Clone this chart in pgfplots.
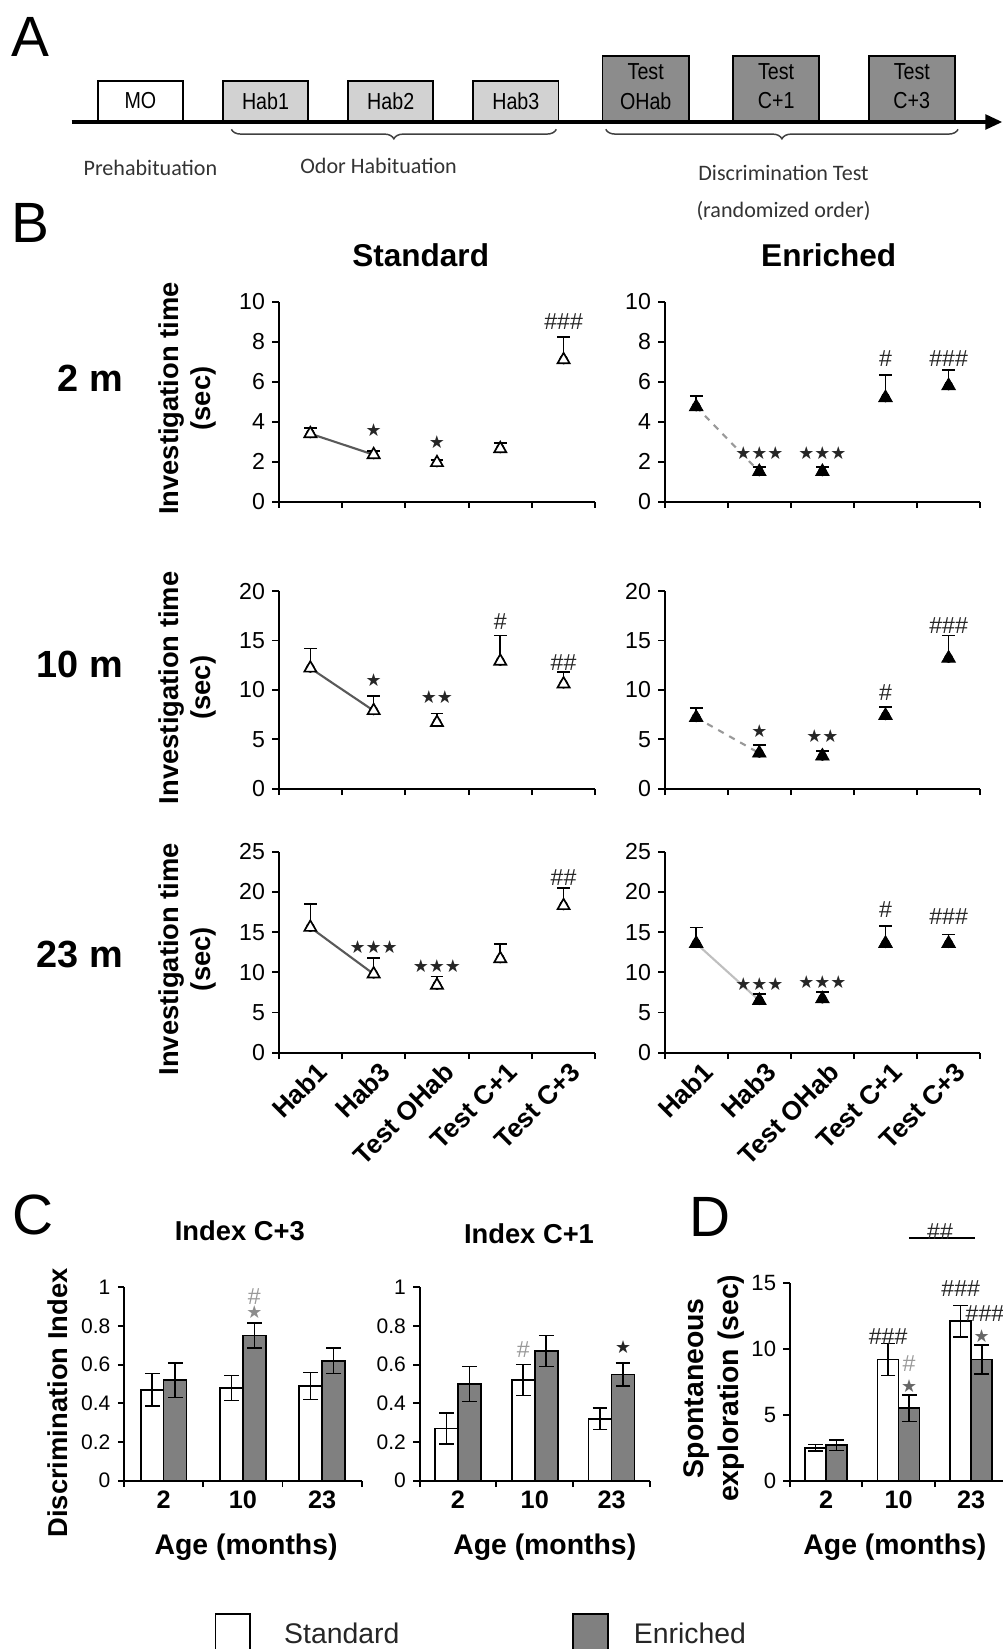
\documentclass[border=0pt]{standalone}
\usepackage{fontspec}
\setmainfont{Liberation Sans}
\newfontfamily\calfont{Carlito}
\newfontfamily\narrowfont[FakeStretch=0.85]{Liberation Sans}
\newfontfamily\djfont{DejaVu Sans}
\usepackage{pgfplots}
\usepackage{pgfplotstable}
\pgfplotsset{compat=1.18}
\usetikzlibrary{decorations.pathreplacing,arrows.meta}
\newcommand\fsz[2]{\fontsize{#1}{#2}\selectfont}
\newcommand\str[1]{{\djfont\fontsize{8.5}{9}\selectfont #1}}
\newcommand\hsh[1]{{\fontsize{11}{12}\selectfont #1}}
\definecolor{barg}{HTML}{808080}
\definecolor{annc}{HTML}{262626}
\definecolor{hab}{HTML}{D2D2D2}
\definecolor{tst}{HTML}{8C8C8C}

% ---- Panel B data (x = category, y = mean, e = upper error) ----
\pgfplotstableread{
x y e
0 3.4 0.3
1 2.35 0.2
2 1.95 0.15
3 2.65 0.3
4 7.1 1.15
}\rAs
\pgfplotstableread{
x y e
0 4.75 0.55
1 1.5 0.25
2 1.5 0.25
3 5.2 1.15
4 5.8 0.8
}\rAe
\pgfplotstableread{
x y e
0 12.2 2.0
1 7.9 1.5
2 6.7 0.9
3 12.9 2.6
4 10.6 1.2
}\rBs
\pgfplotstableread{
x y e
0 7.2 1.0
1 3.6 0.85
2 3.3 0.5
3 7.4 0.9
4 13.2 2.3
}\rBe
\pgfplotstableread{
x y e
0 15.6 2.9
1 9.8 2.0
2 8.4 1.1
3 11.7 1.8
4 18.3 2.2
}\rCs
\pgfplotstableread{
x y e
0 13.6 2.0
1 6.5 0.8
2 6.7 0.9
3 13.6 2.2
4 13.6 1.1
}\rCe
% ---- Panel C / D data (x = bar position, y = mean, e = error) ----
\pgfplotstableread{
x y e
-0.145 0.47 0.085
0.855 0.48 0.065
1.855 0.49 0.07
}\cthreeW
\pgfplotstableread{
x y e
0.145 0.52 0.09
1.145 0.75 0.065
2.145 0.62 0.065
}\cthreeG
\pgfplotstableread{
x y e
-0.15 0.27 0.08
0.85 0.52 0.08
1.85 0.32 0.055
}\coneW
\pgfplotstableread{
x y e
0.15 0.50 0.09
1.15 0.67 0.08
2.15 0.55 0.06
}\coneG
\pgfplotstableread{
x y e
-0.145 2.5 0.25
0.855 9.2 1.2
1.855 12.1 1.2
}\dW
\pgfplotstableread{
x y e
0.145 2.7 0.4
1.145 5.5 1.0
2.145 9.2 1.1
}\dG

\pgfplotsset{
  Bax/.style={
    scale only axis, anchor=south west,
    xmin=-0.5, xmax=4.5, ymin=0,
    axis lines*=left,
    axis line style={line width=1pt},
    tick style={black, line width=0.9pt},
    tick align=outside, major tick length=3pt,
    xtick={-0.5,0.5,...,4.5}, xticklabels={},
    tick label style={font=\fsz{11}{13}},
    /pgf/number format/assume math mode=true,
    clip=false,
  },
  rotlab/.style={
    extra x ticks={0,1,2,3,4},
    extra x tick labels={Hab1,Hab3,Test OHab,Test C+1,Test C+3},
    extra x tick style={major tick length=0pt,
      tick label style={rotate=45, anchor=north east, xshift=2.5pt, yshift=-1pt, font=\bfseries\fsz{12.5}{14}}},
  },
  errB/.style={forget plot, only marks, mark=none,
    error bars/.cd, y dir=plus, y explicit,
    error bar style={line width=0.8pt, black},
    error mark options={rotate=90, mark size=3pt, line width=0.8pt, black}},
  mS/.style={only marks, mark=triangle*, mark size=3.3pt,
    mark options={fill=white, draw=black, line width=0.8pt, solid}},
  mE/.style={only marks, mark=triangle*, mark size=3.7pt,
    mark options={fill=black, draw=black, solid}},
  lS/.style={no marks, black!65, line width=1pt, skip coords between index={2}{5}},
  lE/.style={no marks, black!40, line width=1pt, dashed, skip coords between index={2}{5}},
  Cax/.style={
    scale only axis, anchor=south west, ymin=0,
    xmin=-0.5, xmax=2.5,
    axis lines*=left, axis line style={line width=1pt},
    tick align=outside, major tick length=3pt,
    tick style={black, line width=0.9pt},
    xtick={-0.5,0.5,1.5,2.5}, xticklabels={},
    extra x ticks={0,1,2}, extra x tick labels={2,10,23},
    extra x tick style={major tick length=0pt,
      tick label style={font=\bfseries\fsz{12}{14}, yshift=-1.5pt}},
    tick label style={font=\fsz{10}{12}},
    /pgf/number format/assume math mode=true,
    clip=false,
  },
  errC/.style={error bars/.cd, y dir=both, y explicit,
    error bar style={line width=0.75pt, black},
    error mark options={rotate=90, mark size=3.5pt, line width=0.75pt, black}},
  barW/.style={ybar, bar width=#1, bar shift=0pt, draw=black, line width=0.75pt, fill=white, errC},
  barG/.style={ybar, bar width=#1, bar shift=0pt, draw=black, line width=0.75pt, fill=barg, errC},
}

\begin{document}
\begin{tikzpicture}
\path[use as bounding box] (0,0) rectangle (476.5pt,-784pt);

% ================= global texts and panel A =================
\begin{scope}[x=0.5pt, y=-0.5pt]
  % panel letters
  \node[font=\fsz{27}{30}] at (29,35) {A};
  \node[font=\fsz{27}{30}] at (29,212) {B};
  \node[font=\fsz{27}{30}] at (31,1155) {C};
  \node[font=\fsz{27}{30}] at (675,1157) {D};
  % timeline
  \draw[line width=1.5pt, -{Triangle[length=8pt,width=7pt]}] (68,116) -- (953,116);
  \draw[line width=0.8pt, fill=white] (93,77) rectangle (174,115);
  \node[font=\narrowfont\fsz{11}{13}] at (133.5,96) {MO};
  \foreach \xa/\lab in {212/Hab1, 331/Hab2, 450/Hab3}{
    \draw[line width=0.8pt, fill=hab] (\xa,77) rectangle ({\xa+81},115);
    \node[font=\narrowfont\fsz{11}{13}] at ({\xa+40.5},96) {\lab};
  }
  \foreach \xa/\lab in {573/OHab, 697/C+1, 826/C+3}{
    \draw[line width=0.8pt, fill=tst] (\xa,53) rectangle ({\xa+82},115);
    \node[font=\narrowfont\fsz{11}{13}] at ({\xa+41},68) {Test};
    \node[font=\narrowfont\fsz{11}{13}] at ({\xa+41},96) {\lab};
  }
  \draw[black!75, line width=0.7pt, decorate, decoration={brace, mirror, amplitude=4.5pt}] (220,123) -- (529,123);
  \draw[black!75, line width=0.7pt, decorate, decoration={brace, mirror, amplitude=4.5pt}] (576,123) -- (911,123);
  \node[font=\calfont\fsz{10.5}{12}, text=black!80] at (143,160) {Prehabituation};
  \node[font=\calfont\fsz{10.5}{12}, text=black!80] at (360,158) {Odor Habituation};
  \node[font=\calfont\fsz{10.5}{12}, text=black!80] at (745,164) {Discrimination Test};
  \node[font=\calfont\fsz{10.5}{12}, text=black!80] at (745,201) {(randomized order)};
  % panel B titles
  \node[font=\bfseries\fsz{15}{17}] at (400,243) {Standard};
  \node[font=\bfseries\fsz{15}{17}] at (788,243) {Enriched};
  \node[font=\bfseries\fsz{18}{20}, anchor=east] at (124,360) {2 m};
  \node[font=\bfseries\fsz{18}{20}, anchor=east] at (124,632) {10 m};
  \node[font=\bfseries\fsz{18}{20}, anchor=east] at (124,908) {23 m};
  \foreach \yy in {379,654,912}{
    \node[font=\bfseries\fsz{13}{15}, rotate=90, align=center] at (178,\yy) {Investigation time\\(sec)};
  }
  % panel C / D titles
  \node[font=\bfseries\fsz{13}{15}] at (228,1170) {Index C+3};
  \node[font=\bfseries\fsz{13}{15}] at (503,1173) {Index C+1};
  \node[font=\bfseries\fsz{13}{15}, rotate=90] at (55,1334) {Discrimination Index};
  \node[font=\bfseries\fsz{13.5}{17}, rotate=90, align=center] at (679,1320) {Spontaneous\\exploration (sec)};
  \node[font=\bfseries\fsz{13.5}{15}] at (234,1471) {Age (months)};
  \node[font=\bfseries\fsz{13.5}{15}] at (518,1471) {Age (months)};
  \node[font=\bfseries\fsz{13.5}{15}] at (851,1471) {Age (months)};
  % legend
  \draw[line width=0.8pt, fill=white] (205,1535) rectangle (238,1600);
  \node[font=\fsz{13.5}{15}, text=black!85] at (325,1553) {Standard};
  \draw[line width=0.8pt, fill=barg] (545,1535) rectangle (578,1600);
  \node[font=\fsz{13.5}{15}, text=black!85] at (656,1553) {Enriched};
\end{scope}

% ================= Panel B =================
% row 1 standard
\begin{axis}[Bax, at={(132.5pt,-238.5pt)}, width=150.5pt, height=95pt, ymax=10, ytick={0,2,...,10}]
  \addplot[lS] table[x=x,y=y]{\rAs};
  \addplot[errB] table[x=x,y=y,y error=e]{\rAs};
  \addplot[mS] table[x=x,y=y]{\rAs};
  \node[annc] at (axis cs:1,3.6) {\str{★}};
  \node[annc] at (axis cs:2,3.0) {\str{★}};
  \node[annc] at (axis cs:4,9.0) {\hsh{\#\#\#}};
\end{axis}
% row 1 enriched
\begin{axis}[Bax, at={(316pt,-238.5pt)}, width=150pt, height=95pt, ymax=10, ytick={0,2,...,10}]
  \addplot[lE] table[x=x,y=y]{\rAe};
  \addplot[errB] table[x=x,y=y,y error=e]{\rAe};
  \addplot[mE] table[x=x,y=y]{\rAe};
  \node[annc] at (axis cs:1,2.45) {\str{★★★}};
  \node[annc] at (axis cs:2,2.45) {\str{★★★}};
  \node[annc] at (axis cs:3,7.15) {\hsh{\#}};
  \node[annc] at (axis cs:4,7.15) {\hsh{\#\#\#}};
\end{axis}
% row 2 standard
\begin{axis}[Bax, at={(132.5pt,-375pt)}, width=150.5pt, height=94pt, ymax=20, ytick={0,5,...,20}]
  \addplot[lS] table[x=x,y=y]{\rBs};
  \addplot[errB] table[x=x,y=y,y error=e]{\rBs};
  \addplot[mS] table[x=x,y=y]{\rBs};
  \node[annc] at (axis cs:1,11.0) {\str{★}};
  \node[annc] at (axis cs:2,9.3) {\str{★★}};
  \node[annc] at (axis cs:3,16.9) {\hsh{\#}};
  \node[annc] at (axis cs:4,12.8) {\hsh{\#\#}};
\end{axis}
% row 2 enriched
\begin{axis}[Bax, at={(316pt,-375pt)}, width=150pt, height=94pt, ymax=20, ytick={0,5,...,20}]
  \addplot[lE] table[x=x,y=y]{\rBe};
  \addplot[errB] table[x=x,y=y,y error=e]{\rBe};
  \addplot[mE] table[x=x,y=y]{\rBe};
  \node[annc] at (axis cs:1,5.8) {\str{★}};
  \node[annc] at (axis cs:2,5.3) {\str{★★}};
  \node[annc] at (axis cs:3,9.7) {\hsh{\#}};
  \node[annc] at (axis cs:4,16.5) {\hsh{\#\#\#}};
\end{axis}
% row 3 standard
\begin{axis}[Bax, rotlab, at={(132.5pt,-500.5pt)}, width=150.5pt, height=95.5pt, ymax=25, ytick={0,5,...,25}]
  \addplot[lS] table[x=x,y=y]{\rCs};
  \addplot[errB] table[x=x,y=y,y error=e]{\rCs};
  \addplot[mS] table[x=x,y=y]{\rCs};
  \node[annc] at (axis cs:1,13.2) {\str{★★★}};
  \node[annc] at (axis cs:2,10.8) {\str{★★★}};
  \node[annc] at (axis cs:4,21.8) {\hsh{\#\#}};
\end{axis}
% row 3 enriched
\begin{axis}[Bax, rotlab, at={(316pt,-500.5pt)}, width=150pt, height=95.5pt, ymax=25, ytick={0,5,...,25}]
  \addplot[lE, solid, black!25] table[x=x,y=y]{\rCe};
  \addplot[errB] table[x=x,y=y,y error=e]{\rCe};
  \addplot[mE] table[x=x,y=y]{\rCe};
  \node[annc] at (axis cs:1,8.6) {\str{★★★}};
  \node[annc] at (axis cs:2,8.8) {\str{★★★}};
  \node[annc] at (axis cs:3,17.8) {\hsh{\#}};
  \node[annc] at (axis cs:4,16.9) {\hsh{\#\#\#}};
\end{axis}

% ================= Panel C =================
\begin{axis}[Cax, at={(59pt,-704pt)}, width=113pt, height=92pt, ymax=1, ytick={0,0.2,0.4,0.6,0.8,1}]
  \addplot[barW=0.29] table[x=x,y=y,y error=e]{\cthreeW};
  \addplot[barG=0.29] table[x=x,y=y,y error=e]{\cthreeG};
  \node[text=black!45] at (axis cs:1.145,0.87) {\str{★}};
  \node[text=black!40] at (axis cs:1.145,0.95) {\hsh{\#}};
\end{axis}
\begin{axis}[Cax, at={(199.5pt,-704pt)}, width=109.5pt, height=92pt, ymax=1, ytick={0,0.2,0.4,0.6,0.8,1}]
  \addplot[barW=0.3] table[x=x,y=y,y error=e]{\coneW};
  \addplot[barG=0.3] table[x=x,y=y,y error=e]{\coneG};
  \node[text=black!40] at (axis cs:0.85,0.68) {\hsh{\#}};
  \node[annc] at (axis cs:2.15,0.69) {\str{★}};
\end{axis}

% ================= Panel D =================
\begin{axis}[Cax, at={(375.5pt,-704pt)}, width=103.5pt, height=94pt, ymax=15, ytick={0,5,10,15}, tick label style={font=\fsz{10.5}{12}}]
  \addplot[barW=0.29] table[x=x,y=y,y error=e]{\dW};
  \addplot[barG=0.29] table[x=x,y=y,y error=e]{\dG};
  \node[annc] at (axis cs:0.855,10.9) {\hsh{\#\#\#}};
  \node[text=black!40] at (axis cs:1.145,8.9) {\hsh{\#}};
  \node[text=black!60] at (axis cs:1.145,7.2) {\str{★}};
  \node[annc] at (axis cs:1.855,14.6) {\hsh{\#\#\#}};
  \node[text=black!60] at (axis cs:2.145,10.95) {\str{★}};
  \node[annc] at (axis cs:2.19,12.7) {\hsh{\#\#\#}};
  \draw[line width=0.8pt] (axis cs:1.14,18.4) -- (axis cs:2.05,18.4);
  \node[annc, anchor=base, inner sep=0pt] at (axis cs:1.57,18.3) {\hsh{\#\#}};
\end{axis}
\end{tikzpicture}
\end{document}
